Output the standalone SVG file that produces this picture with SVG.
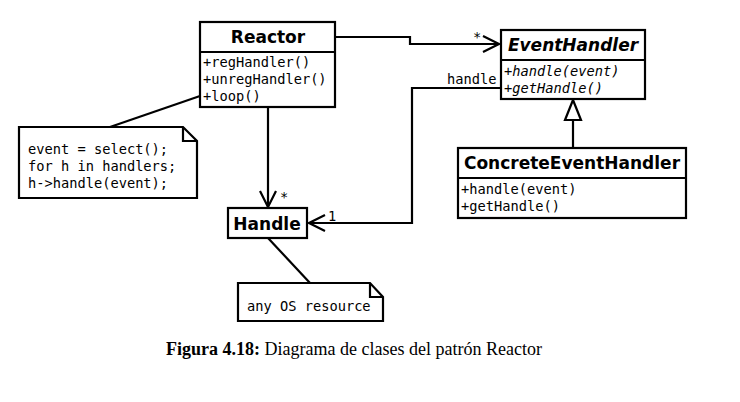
<svg xmlns="http://www.w3.org/2000/svg" width="740" height="402" viewBox="0 0 740 402">
<defs>
<style>
.box{fill:#fff;stroke:#000;stroke-width:2.2}
.ln{fill:none;stroke:#000;stroke-width:2.2}
.title{font-family:"DejaVu Sans",sans-serif;font-weight:bold;font-size:17px;text-anchor:middle}
.m{font-family:"DejaVu Sans Mono",monospace;font-size:13.7px}
.it{font-style:italic}
.lbl{font-family:"DejaVu Sans Mono",monospace;font-size:13.7px}
</style>
<marker id="open" viewBox="0 0 20 20" refX="18" refY="10" markerWidth="20" markerHeight="20" markerUnits="userSpaceOnUse" orient="auto">
<path d="M2,2 L18,10 L2,18" fill="none" stroke="#000" stroke-width="2.2"/>
</marker>
</defs>
<rect width="740" height="402" fill="#fff"/>
<g id="connectors">
<polyline class="ln" points="335,37 410,37 410,44 499,44" marker-end="url(#open)"/>
<polyline class="ln" points="500,88 412,88 412,223 309,223" marker-end="url(#open)"/>
<line class="ln" x1="268" y1="107" x2="268" y2="207" marker-end="url(#open)"/>
<line class="ln" x1="573" y1="148" x2="573" y2="120"/>
<polygon points="573,100 565,120 581,120" fill="#fff" stroke="#000" stroke-width="2.2"/>
<line class="ln" x1="200" y1="96" x2="110" y2="127"/>
<line class="ln" x1="268" y1="238" x2="310" y2="283"/>
<text class="lbl" x="473" y="42">*</text>
<text class="lbl" x="447" y="84">handle</text>
<text class="lbl" x="280" y="202">*</text>
<text class="lbl" x="328" y="221">1</text>
</g>
<g id="Reactor">
<rect class="box" x="200" y="22" width="135" height="85"/>
<line class="ln" x1="200" y1="52" x2="335" y2="52"/>
<text class="title" x="268" y="43">Reactor</text>
<text class="m" x="203" y="67">+regHandler()</text>
<text class="m" x="203" y="84">+unregHandler()</text>
<text class="m" x="203" y="101">+loop()</text>
</g>
<g id="EventHandler">
<rect class="box" x="501" y="30" width="144" height="69"/>
<line class="ln" x1="501" y1="60" x2="645" y2="60"/>
<text class="title it" x="573" y="51">EventHandler</text>
<text class="m it" x="504" y="76">+handle(event)</text>
<text class="m it" x="504" y="93">+getHandle()</text>
</g>
<g id="ConcreteEventHandler">
<rect class="box" x="458" y="148" width="228" height="70"/>
<line class="ln" x1="458" y1="178" x2="686" y2="178"/>
<text class="title" x="572" y="169">ConcreteEventHandler</text>
<text class="m" x="461" y="194">+handle(event)</text>
<text class="m" x="461" y="211">+getHandle()</text>
</g>
<g id="Handle">
<rect class="box" x="228" y="208" width="79" height="30"/>
<text class="title" x="267" y="230">Handle</text>
</g>
<g id="note1">
<path class="box" d="M19,127 L183,127 L197,141 L197,198 L19,198 Z"/>
<path class="ln" d="M183,127 L183,141 L197,141" stroke-width="1"/>
<text class="m" x="28" y="154">event = select();</text>
<text class="m" x="28" y="171">for h in handlers;</text>
<text class="m" x="28" y="188">h-&gt;handle(event);</text>
</g>
<g id="note2">
<path class="box" d="M238,283 L370,283 L383,297 L383,321 L238,321 Z"/>
<path class="ln" d="M370,283 L370,297 L383,297" stroke-width="1"/>
<text class="m" x="247" y="311">any OS resource</text>
</g>
<g id="caption">
<text x="166" y="355" font-family="'Liberation Serif',serif" font-size="18"><tspan font-weight="bold">Figura 4.18:</tspan> Diagrama de clases del patrón Reactor</text>
</g>
</svg>
